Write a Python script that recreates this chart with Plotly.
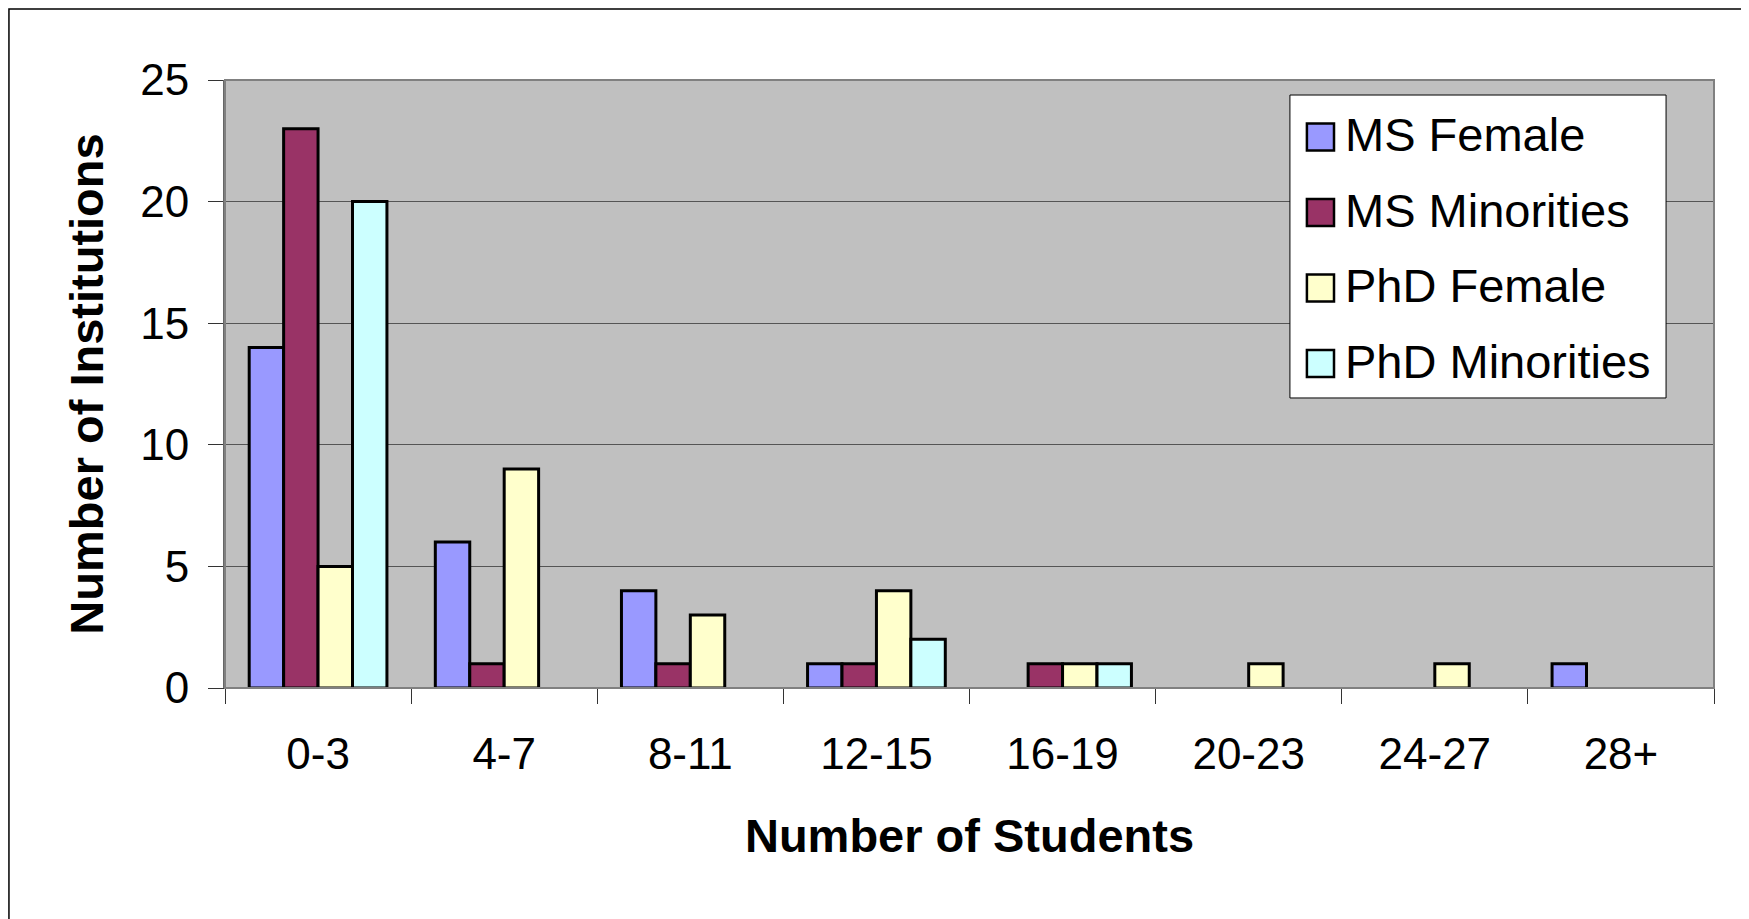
import plotly.graph_objects as go

# categories and counts
ranges = ['0-3', '4-7', '8-11', '12-15', '16-19', '20-23', '24-27', '28+']
ms_female = [14, 6, 4, 1, 0, 0, 0, 1]
ms_minorities = [23, 1, 1, 1, 1, 0, 0, 0]
phd_female = [5, 9, 3, 4, 1, 1, 1, 0]
phd_minorities = [20, 0, 0, 2, 1, 0, 0, 0]

series = [
    ('MS Female', ms_female, '#9999FF'),
    ('MS Minorities', ms_minorities, '#993366'),
    ('PhD Female', phd_female, '#FFFFCC'),
    ('PhD Minorities', phd_minorities, '#CCFFFF'),
]

FONT = 'Liberation Sans, Arial, sans-serif'

fig = go.Figure()
for name, vals, col in series:
    # zero counts get no bar at all (otherwise the outline shows on the baseline)
    fig.add_trace(go.Bar(x=ranges, y=[v if v else None for v in vals], name=name,
                         marker=dict(color=col, line=dict(color='black', width=3)),
                         showlegend=False))

## frame, outer border and hand made legend
shapes = [
    dict(type='rect', xref='paper', yref='paper', x0=-0.1451, x1=1.0208, y0=-0.6, y1=1.1168,
         line=dict(color='black', width=1.5), layer='below'),
    dict(type='rect', xref='paper', yref='paper', x0=0, x1=1, y0=0, y1=1,
         line=dict(color='#808080', width=2)),
    dict(type='rect', xref='paper', yref='paper', x0=0.7152, x1=0.9678, y0=0.477, y1=0.9753,
         fillcolor='white', line=dict(color='black', width=1)),
]
annotations = []
for i, (name, vals, col) in enumerate(series):
    yc = (688 - (137 + 75.5 * i)) / 608
    shapes.append(dict(type='rect', xref='paper', yref='paper', x0=0.7266, x1=0.7448,
                       y0=yc - 0.0222, y1=yc + 0.0222, fillcolor=col,
                       line=dict(color='black', width=2.5)))
    annotations.append(dict(xref='paper', yref='paper', x=0.7508, y=yc + 0.004, text=name,
                            showarrow=False, xanchor='left', yanchor='middle',
                            font=dict(family=FONT, size=47, color='black')))

# page body has an 8px margin: shrink the figure so it fits the window
fig.update_layout(
    width=1741, height=911,
    margin=dict(l=217, r=35, t=72, b=231),
    paper_bgcolor='white', plot_bgcolor='#C0C0C0',
    barmode='group', bargap=0.26, bargroupgap=0,
    font=dict(family=FONT, color='black'),
    shapes=shapes, annotations=annotations,
)
fig.update_xaxes(
    tickson='boundaries', ticks='outside', ticklen=15, tickcolor='#333', tickwidth=1,
    showline=True, linecolor='#333', linewidth=1, showgrid=False,
    tickfont=dict(size=44), ticklabelstandoff=27,
    title=dict(text='<b>Number of Students</b>', font=dict(size=47), standoff=42),
)
fig.update_yaxes(
    range=[0, 25], dtick=5, ticks='outside', ticklen=15, tickcolor='#333', tickwidth=1,
    showline=True, linecolor='#666', linewidth=2,
    showgrid=True, gridcolor='#555', gridwidth=1, zeroline=False,
    tickfont=dict(size=44), ticklabelstandoff=10,
    title=dict(text='<b>Number of Institutions</b>', font=dict(size=47), standoff=22),
)

fig.write_html("out.html")
